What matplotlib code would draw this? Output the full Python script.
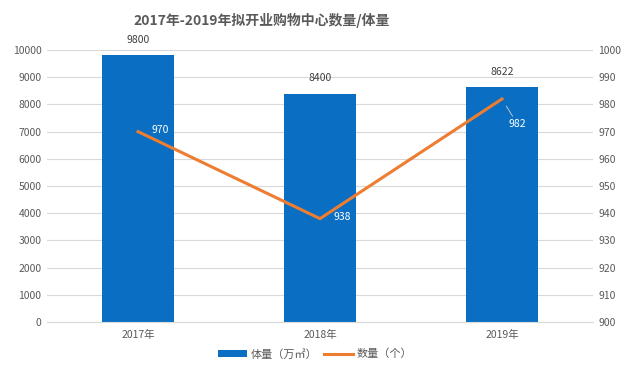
import matplotlib.pyplot as plt

plt.rcParams['font.family'] = ['Noto Sans CJK SC', 'DejaVu Sans']

years = ['2017年', '2018年', '2019年']
volume = [9800, 8400, 8622]      # 体量（万㎡）
count = [970, 938, 982]          # 数量（个）

bar_color = '#0a6fc2'
line_color = '#ed7d31'
text_color = '#595959'

fig = plt.figure(figsize=(6.3, 3.74), dpi=100)
ax = fig.add_axes([47 / 630, 1 - 322 / 374, 546 / 630, 272 / 374])
ax2 = ax.twinx()

x = list(range(len(years)))
bars = ax.bar(x, volume, width=0.4, color=bar_color, label='体量（万㎡）', zorder=2)
ax.set_xlim(-0.5, 2.5)
ax.set_ylim(0, 10000)
ax.set_yticks(range(0, 10001, 1000))
ax.grid(axis='y', color='#d9d9d9', linewidth=0.8, zorder=0)
ax.set_axisbelow(True)
ax.set_xticks(x)
ax.set_xticklabels(years)

for xi, v in zip(x, volume):
    ax.annotate(str(v), (xi, v), xytext=(0, 11), textcoords='offset points',
                ha='center', va='center', fontsize=7.5, color='#404040')

line, = ax2.plot(x, count, color=line_color, linewidth=2.2, label='数量（个）', zorder=3)
ax2.set_ylim(900, 1000)
ax2.set_yticks(range(900, 1001, 10))

for i in (0, 1):
    ax2.annotate(str(count[i]), (x[i], count[i]), xytext=(10, 1), textcoords='offset points',
                 ha='left', va='center', fontsize=7.5, color='white')
ax2.annotate(str(count[2]), (x[2], count[2]), xytext=(11, -18), textcoords='offset points',
             ha='center', va='center', fontsize=7.5, color='white',
             arrowprops=dict(arrowstyle='-', color='#d0d0d0', linewidth=0.6, shrinkA=0, shrinkB=6))

for a in (ax, ax2):
    for s in a.spines.values():
        s.set_visible(False)
    a.tick_params(length=0, labelsize=7.5, labelcolor=text_color)
ax.spines['bottom'].set_visible(True)
ax.spines['bottom'].set_color('#d9d9d9')
ax.tick_params(axis='y', pad=4)
ax.tick_params(axis='x', pad=6)
ax2.tick_params(axis='y', pad=4)

fig.suptitle('2017年-2019年拟开业购物中心数量/体量', x=0.416, y=0.965,
             fontsize=10, fontweight='bold', color=text_color)

fig.legend([bars, line], ['体量（万㎡）', '数量（个）'], loc='center', bbox_to_anchor=(0.5, 1 - 354 / 374),
           ncol=2, frameon=False, fontsize=8, handlelength=2.6, handleheight=0.6,
           handletextpad=0.3, columnspacing=0.6, labelcolor=text_color)

fig.savefig('out.png', dpi=100)
